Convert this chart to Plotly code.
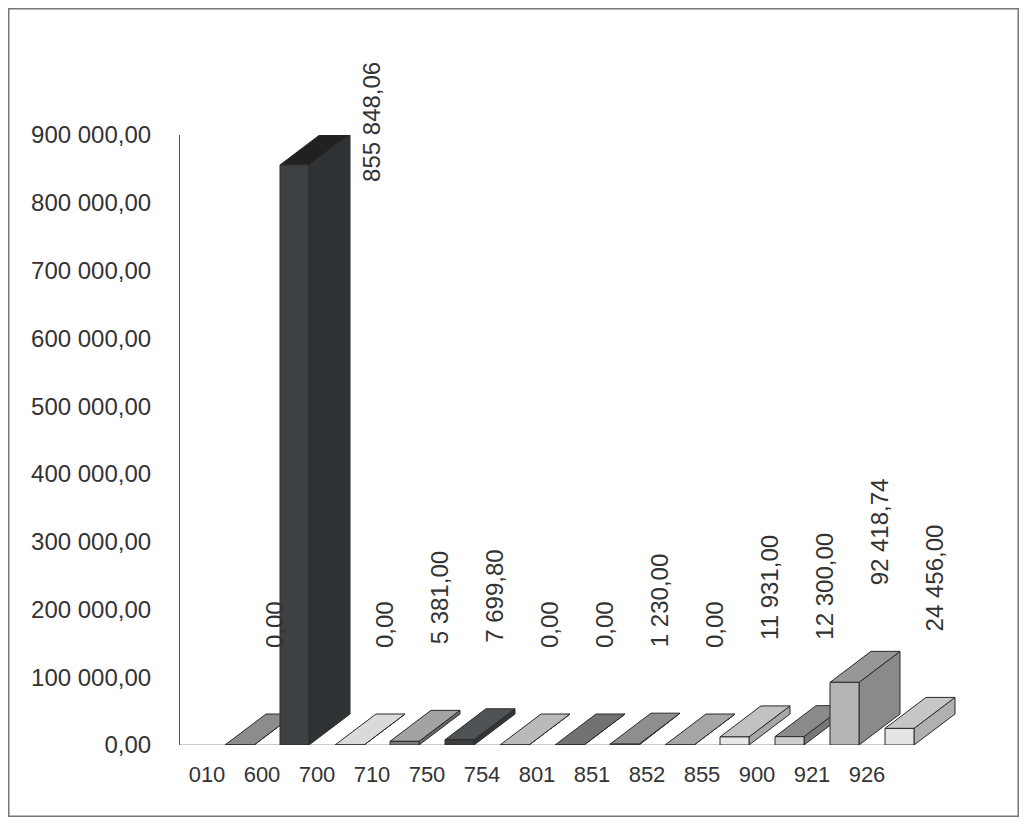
import plotly.graph_objects as go

# ---- data ----
categories = ["010", "600", "700", "710", "750", "754", "801",
              "851", "852", "855", "900", "921", "926"]
values = [0.00, 855848.06, 0.00, 5381.00, 7699.80, 0.00, 0.00,
          1230.00, 0.00, 11931.00, 12300.00, 92418.74, 24456.00]
y_ticks = [0, 100000, 200000, 300000, 400000, 500000, 600000,
           700000, 800000, 900000]

# ---- styles ----
front_colors = ["#7a7a7a", "#3e4144", "#c8c8c8", "#7c7c7c", "#3c3e40", "#a8a8a8",
                "#5a5c5e", "#7a7a7a", "#909090", "#e8e8e8", "#cfcfcf", "#b5b5b5", "#e4e4e4"]
side_colors = ["#666666", "#303336", "#b0b0b0", "#6a6a6a", "#333537", "#999999",
               "#505254", "#6a6a6a", "#808080", "#a8a8a8", "#777777", "#8a8a8a", "#b0b0b0"]
top_colors = ["#8c8c8c", "#1f2123", "#dadada", "#a3a3a3", "#505355", "#bababa",
              "#707274", "#8e8e8e", "#a6a6a6", "#c2c2c2", "#8a8a8a", "#979797", "#c6c6c6"]

FONT = "Liberation Sans, Arial, sans-serif"
TXT = "#333333"

# figure geometry (pixels; the page body adds an 8px margin)
W, H = 1011, 809
ML, MR, MT, MB = 172, 59, 127, 72
PX_PER_CAT = 55.0
YMAX = 900000
plot_w = W - ML - MR
plot_h = H - MT - MB
x_start = -27.0 / PX_PER_CAT
x_end = x_start + plot_w / PX_PER_CAT

# pseudo-3D shape parameters (in axis units)
off = 18.0 / PX_PER_CAT          # front face left offset from category position
bw = 29.0 / PX_PER_CAT           # front face width
dx = 41.0 / PX_PER_CAT           # depth, horizontal
dy = 31.0 * YMAX / plot_h        # depth, vertical (value units)


def fmt(v):
    s = f"{v:,.2f}"
    return s.replace(",", " ").replace(".", ",")


fig = go.Figure()
edge = dict(color="#2a2a2a", width=1)

for i, (cat, v) in enumerate(zip(categories, values)):
    x0 = i + off
    x1 = x0 + bw
    # side face
    fig.add_trace(go.Scatter(
        x=[x1, x1 + dx, x1 + dx, x1, x1],
        y=[0, dy, v + dy, v, 0],
        fill="toself", fillcolor=side_colors[i], line=edge, mode="lines",
        hoverinfo="skip", showlegend=False, cliponaxis=False))
    # top face
    fig.add_trace(go.Scatter(
        x=[x0, x0 + dx, x1 + dx, x1, x0],
        y=[v, v + dy, v + dy, v, v],
        fill="toself", fillcolor=top_colors[i], line=edge, mode="lines",
        hoverinfo="skip", showlegend=False, cliponaxis=False))
    # front face
    fig.add_trace(go.Scatter(
        x=[x0, x1, x1, x0, x0],
        y=[0, 0, v, v, 0],
        fill="toself", fillcolor=front_colors[i], line=edge, mode="lines",
        name=cat, text=fmt(v), hoverinfo="name+text", showlegend=False))

# value labels
vmax = max(values)
for i, v in enumerate(values):
    if v > 0.5 * vmax:
        fig.add_annotation(
            x=i + off + bw + dx + 0.4, y=v, text=fmt(v), textangle=-90,
            showarrow=False, xanchor="center", yanchor="top", yshift=105,
            font=dict(family=FONT, size=24, color=TXT))
    else:
        fig.add_annotation(
            x=i + off + 0.9, y=v, text=fmt(v), textangle=-90,
            showarrow=False, xanchor="center", yanchor="bottom", yshift=95,
            font=dict(family=FONT, size=24, color=TXT))

# x axis baseline (shorter than the plot area, as in the original)
fig.add_shape(type="line", xref="x", yref="y", x0=x_start, x1=len(categories) - 1 + 0.45,
              y0=0, y1=0, line=dict(color="#9a9a9a", width=1), layer="below")

# outer frame
fx0 = (0.75 - ML) / plot_w
fx1 = (W - 0.75 - ML) / plot_w
fy1 = (H - MB - 0.75) / plot_h
fy0 = (H - MB - (H - 0.75)) / plot_h
fig.add_shape(type="rect", xref="paper", yref="paper", x0=fx0, x1=fx1, y0=fy0, y1=fy1,
              line=dict(color="#777777", width=1.5), layer="below")

fig.update_layout(
    width=W, height=H,
    margin=dict(l=ML, r=MR, t=MT, b=MB, pad=0),
    paper_bgcolor="white", plot_bgcolor="white",
    font=dict(family=FONT, size=22, color=TXT),
    showlegend=False,
    xaxis=dict(
        range=[x_start, x_end], tickmode="array",
        tickvals=list(range(len(categories))), ticktext=categories,
        showgrid=False, zeroline=False, showline=False, ticks="",
        ticklabelstandoff=14, tickfont=dict(family=FONT, size=22, color=TXT),
        fixedrange=True),
    yaxis=dict(
        range=[0, YMAX], tickmode="array", tickvals=y_ticks,
        ticktext=[fmt(t) for t in y_ticks],
        showgrid=False, zeroline=False, showline=True, linecolor="#555555", linewidth=1,
        ticks="", ticklabelstandoff=23, tickfont=dict(family=FONT, size=24, color=TXT),
        fixedrange=True),
)

fig.write_html("out.html")
